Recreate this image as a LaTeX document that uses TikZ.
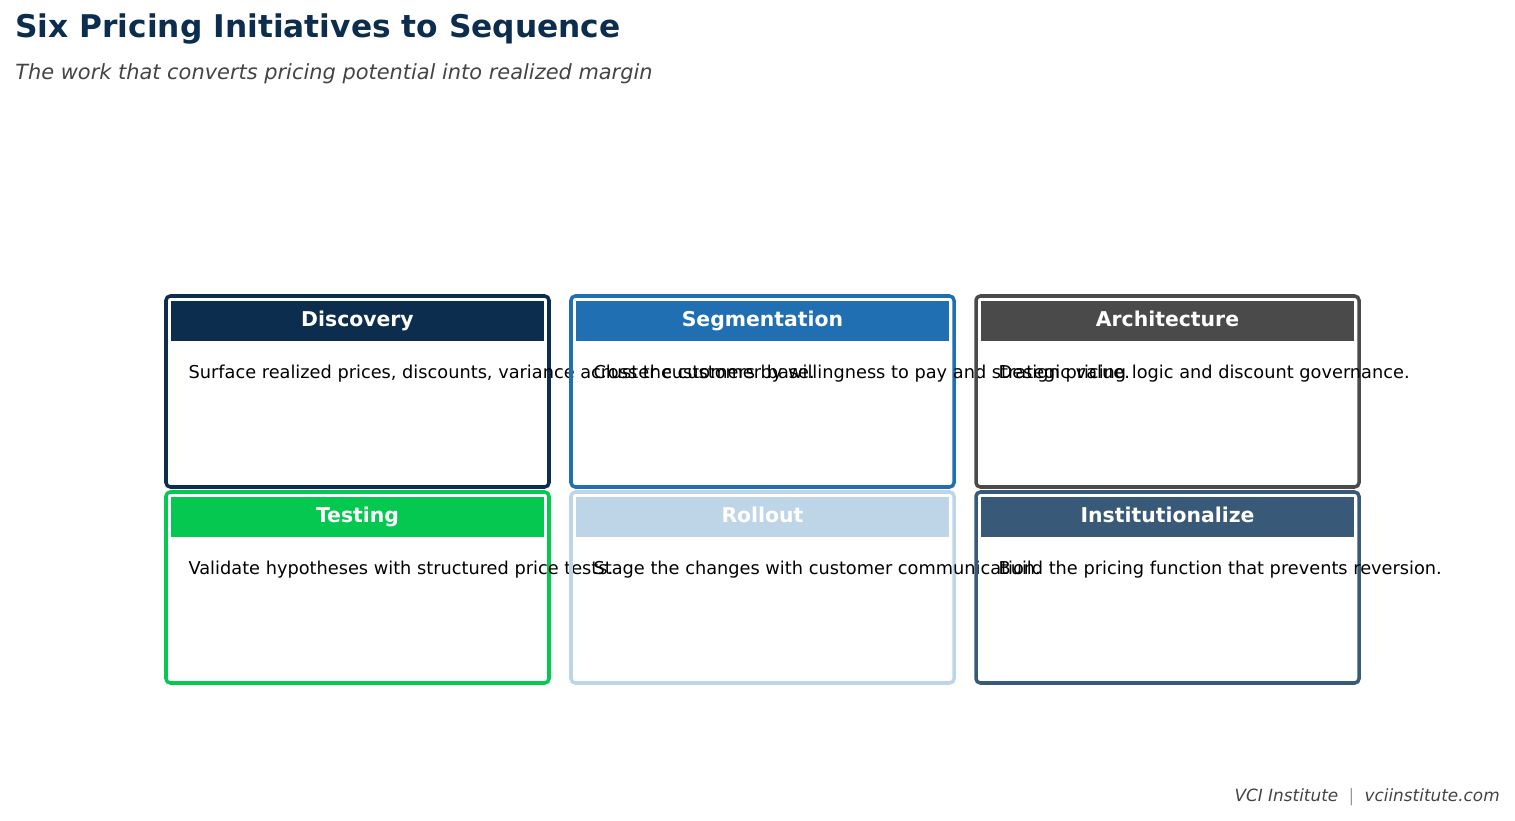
\documentclass[tikz,border=0pt]{standalone}
\usepackage{fontspec}
\setmainfont{DejaVu Sans}
\definecolor{navy}{HTML}{0C2D4E}
\definecolor{segblue}{HTML}{1F6FB2}
\definecolor{archgray}{HTML}{4A4A4A}
\definecolor{testgreen}{HTML}{05C851}
\definecolor{rollblue}{HTML}{BED5E8}
\definecolor{instblue}{HTML}{385A78}
\definecolor{subgray}{HTML}{444444}
\tikzset{
  card/.style={draw=#1, line width=2pt, rounded corners=2.5pt, minimum width=383*0.02cm, minimum height=191*0.02cm, inner sep=0pt},
  head/.style={fill=#1, anchor=north, minimum width=373*0.02cm, minimum height=40*0.02cm, inner sep=0pt, text height=8.4pt, text depth=2.2pt, text=white, font=\fontsize{11.6}{13}\selectfont\bfseries},
  body/.style={anchor=west, inner sep=0pt, font=\fontsize{10.1}{12}\selectfont}
}
\begin{document}
\begin{tikzpicture}[x=0.02cm, y=-0.02cm]
\useasboundingbox (0,0) rectangle (1515,821);
\node[anchor=west, inner sep=0pt, text=navy, font=\fontsize{17.8}{20}\selectfont\bfseries] (title) at (15,29) {Six Pricing Initiatives to Sequence};
\node[anchor=west, inner sep=0pt, text=subgray, font=\fontsize{11.9}{13}\selectfont\itshape] (subtitle) at (15,74) {The work that converts pricing potential into realized margin};
% cards: x, y, colour, name, title, text
\foreach \x/\y/\c/\n/\t/\b in {
  357.5/391.5/navy/disc/Discovery/{Surface realized prices, discounts, variance across the customer base.},
  762.5/391.5/segblue/seg/Segmentation/{Cluster customers by willingness to pay and strategic value.},
  1167.5/391.5/archgray/arch/Architecture/{Design pricing logic and discount governance.},
  357.5/587.5/testgreen/test/Testing/{Validate hypotheses with structured price tests.},
  762.5/587.5/rollblue/roll/Rollout/{Stage the changes with customer communication.},
  1167.5/587.5/instblue/inst/Institutionalize/{Build the pricing function that prevents reversion.}}{
  \node[card=\c] (\n) at (\x,\y) {};
  \node[head=\c] (\n-head) at ([yshift=-6*0.02cm]\n.north) {\t};
  \node[body] (\n-text) at ([xshift=24*0.02cm, yshift=-79*0.02cm]\n.north west) {\b};
}
\node[anchor=east, inner sep=0pt, text=subgray, font=\fontsize{9.6}{11}\selectfont\itshape] (footer) at (1500,797) {VCI Institute \ $|$ \ vciinstitute.com};
\end{tikzpicture}
\end{document}
